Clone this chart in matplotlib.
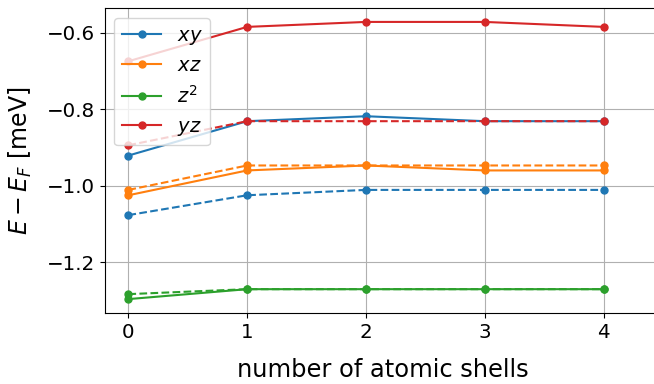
import matplotlib

matplotlib.use("Agg")
import matplotlib.pyplot as plt
import numpy as np

# number of atomic shells
shells = [0, 1, 2, 3, 4]

# solid lines
xy_solid = [-0.921, -0.831, -0.818, -0.831, -0.831]
xz_solid = [-1.025, -0.960, -0.947, -0.960, -0.960]
z2_solid = [-1.297, -1.271, -1.271, -1.271, -1.271]
yz_solid = [-0.674, -0.584, -0.571, -0.571, -0.584]

# dashed lines
xy_dashed = [-1.077, -1.025, -1.011, -1.011, -1.011]
xz_dashed = [-1.011, -0.947, -0.947, -0.947, -0.947]
z2_dashed = [-1.284, -1.271, -1.271, -1.271, -1.271]
yz_dashed = [-0.894, -0.831, -0.831, -0.831, -0.831]

labels = [r"$xy$", r"$xz$", r"$z^2$", r"$yz$"]
colors = ["#1f77b4", "#ff7f0e", "#2ca02c", "#d62728"]


def main():
    fig = plt.figure(figsize=(6.54, 3.84), dpi=100)
    ax = fig.add_axes([0.160, 0.185, 0.85, 0.794])

    solids = [xy_solid, xz_solid, z2_solid, yz_solid]
    dashes = [xy_dashed, xz_dashed, z2_dashed, yz_dashed]
    for vals, lab, col in zip(solids, labels, colors):
        ax.plot(shells, vals, "-o", color=col, markersize=5, linewidth=1.5, label=lab)
    for vals, col in zip(dashes, colors):
        ax.plot(shells, vals, "--o", color=col, markersize=5, linewidth=1.5)

    ax.set_xlim(-0.2, 4.48)
    ax.set_xticks(shells)
    ax.set_yticks([-1.2, -1.0, -0.8, -0.6])
    ax.tick_params(labelsize=14.3)
    ax.grid(True)
    ax.set_xlabel("number of atomic shells", fontsize=17.4, labelpad=12)
    ax.set_ylabel(r"$E-E_F$ [meV]", fontsize=17, labelpad=9)
    ax.legend(loc="upper left", fontsize=14, handlelength=2.0)

    fig.savefig("out.png", dpi=100)
    plt.close(fig)


if __name__ == "__main__":
    main()
